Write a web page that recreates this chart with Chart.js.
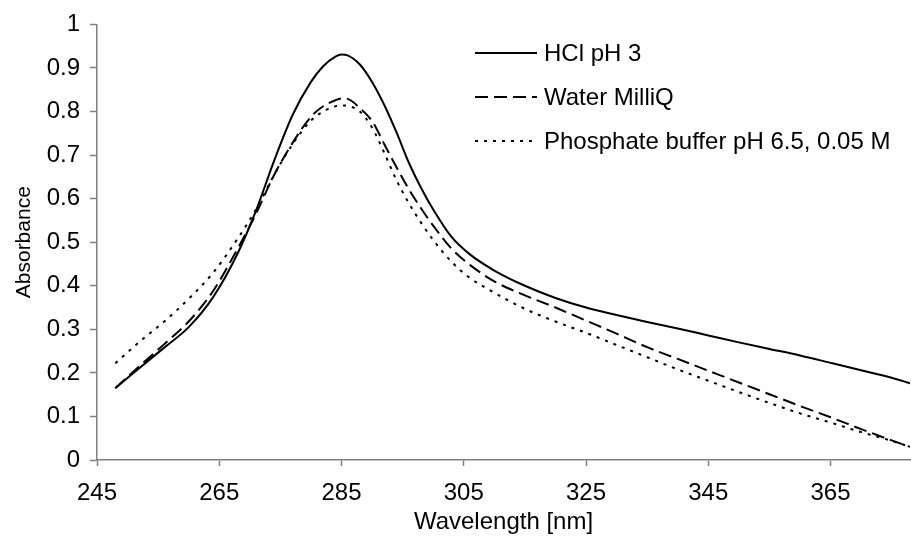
<!DOCTYPE html>
<html>
<head>
<meta charset="utf-8">
<script src="https://cdn.jsdelivr.net/npm/chart.js@4.4.1/dist/chart.umd.min.js"></script>
<style>
html,body{margin:0;padding:0;background:#fff;}
#wrap{width:911px;height:541px;position:relative;}
</style>
</head>
<body>
<div id="wrap"><canvas id="c" width="911" height="541"></canvas></div>
<script>
const wavelengths = [248,252,256,260,264,268,271,274,277,280,282,284,285,286,288,290,292,294,296,298,300,303,306,310,315,320,325,330,335,340,345,350,355,360,365,370,375,378];
const hclPh3 = [0.165,0.212,0.258,0.305,0.374,0.474,0.572,0.688,0.792,0.868,0.904,0.926,0.931,0.929,0.908,0.868,0.815,0.752,0.683,0.625,0.575,0.512,0.472,0.435,0.400,0.372,0.350,0.333,0.317,0.302,0.286,0.270,0.255,0.240,0.223,0.206,0.189,0.176];
const waterMilliQ = [0.165,0.216,0.266,0.318,0.388,0.485,0.565,0.655,0.728,0.788,0.812,0.826,0.830,0.829,0.808,0.778,0.725,0.672,0.622,0.578,0.538,0.485,0.448,0.410,0.378,0.350,0.320,0.290,0.259,0.232,0.205,0.178,0.151,0.124,0.098,0.071,0.045,0.030];
const phosphateBuffer = [0.222,0.272,0.318,0.370,0.430,0.508,0.575,0.655,0.725,0.779,0.800,0.812,0.814,0.813,0.800,0.763,0.705,0.642,0.590,0.545,0.505,0.455,0.418,0.384,0.347,0.318,0.292,0.264,0.236,0.208,0.182,0.156,0.131,0.107,0.086,0.064,0.044,0.030];
const seriesNames = ["HCl pH 3","Water MilliQ","Phosphate buffer pH 6.5, 0.05 M"];
const xTickValues = [245,265,285,305,325,345,365];
const yTickValues = [0,0.1,0.2,0.3,0.4,0.5,0.6,0.7,0.8,0.9,1];
const xTitle = "Wavelength [nm]";
const yTitle = "Absorbance";

const FONT = "'Liberation Sans', Arial, sans-serif";
const AXIS = '#808080';

function pts(ys){ return wavelengths.map((w,i)=>({x:w,y:ys[i]})); }

const legendPlugin = {
  id:'customLegend',
  afterDraw(chart){
    const ctx = chart.ctx;
    const rows = [53,97,141];
    ctx.save();
    chart.data.datasets.forEach((ds,i)=>{
      const y = rows[i];
      ctx.beginPath();
      ctx.setLineDash(ds.borderDash || []);
      ctx.lineWidth = ds.borderWidth;
      ctx.strokeStyle = ds.borderColor;
      ctx.moveTo(475,y);
      ctx.lineTo(537,y);
      ctx.stroke();
      ctx.setLineDash([]);
      ctx.fillStyle = '#000';
      ctx.font = '24px ' + FONT;
      ctx.textBaseline = 'middle';
      ctx.textAlign = 'left';
      ctx.fillText(ds.label, 544, y+1);
    });
    ctx.restore();
  }
};

const common = {pointRadius:0, borderColor:'#000', borderWidth:2, fill:false, cubicInterpolationMode:'monotone'};

new Chart(document.getElementById('c'), {
  type:'line',
  data:{
    datasets:[
      Object.assign({label:seriesNames[0], data:pts(hclPh3)}, common),
      Object.assign({label:seriesNames[1], data:pts(waterMilliQ), borderDash:[13,6]}, common),
      Object.assign({label:seriesNames[2], data:pts(phosphateBuffer), borderDash:[3,6]}, common)
    ]
  },
  options:{
    responsive:false,
    animation:false,
    devicePixelRatio:1,
    layout:{padding:{top:22,right:1,left:0,bottom:0}},
    plugins:{legend:{display:false}, tooltip:{enabled:false}},
    scales:{
      x:{
        type:'linear', min:245, max:378,
        afterBuildTicks(s){ s.ticks = xTickValues.map(v=>({value:v})); },
        afterFit(s){ s.height = 81; },
        grid:{drawOnChartArea:false, drawTicks:true, tickLength:6, tickColor:AXIS, tickWidth:1.5},
        border:{display:true, color:AXIS, width:1.5},
        ticks:{color:'#000', font:{family:FONT,size:24}, padding:13, maxRotation:0, autoSkip:false},
        title:{display:true, text:xTitle, color:'#000', font:{family:FONT,size:24}, padding:{top:0,bottom:4}}
      },
      y:{
        type:'linear', min:0, max:1,
        afterBuildTicks(s){ s.ticks = yTickValues.map(v=>({value:v})); },
        afterFit(s){ s.width = 97; },
        grid:{drawOnChartArea:false, drawTicks:true, tickLength:7, tickColor:AXIS, tickWidth:1.5},
        border:{display:true, color:AXIS, width:1.5},
        ticks:{color:'#000', font:{family:FONT,size:24}, padding:10, callback:v=>String(Math.round(v*10)/10)},
        title:{display:true, text:yTitle, color:'#000', font:{family:FONT,size:21}, padding:{top:12,bottom:0}}
      }
    }
  },
  plugins:[legendPlugin]
});
</script>
</body>
</html>
